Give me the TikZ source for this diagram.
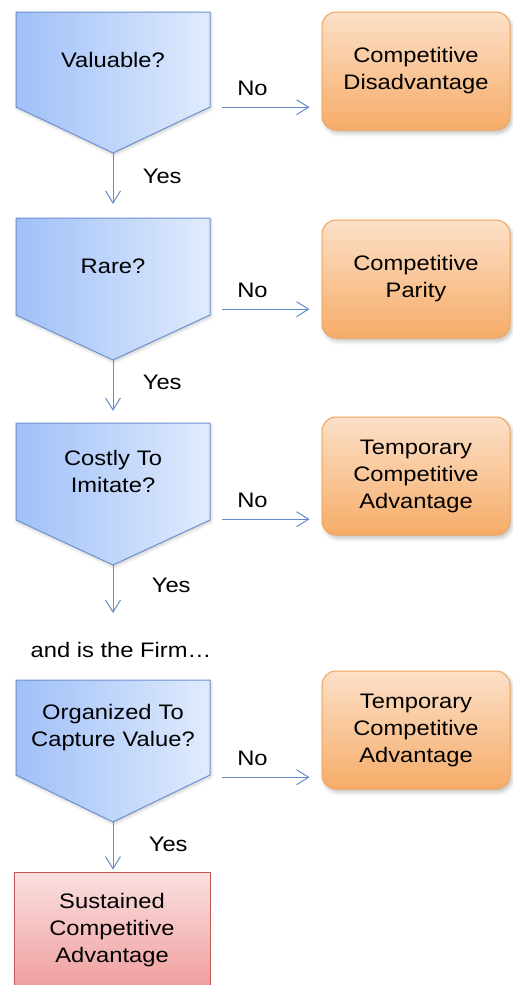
\documentclass[tikz,border=0pt]{standalone}
\usepackage{fontspec}
\setmainfont{Liberation Sans}[FakeStretch=1.13]
\usetikzlibrary{arrows.meta,shadows.blur}

\definecolor{flowline}{RGB}{100,140,205}
\definecolor{askleft}{RGB}{160,192,248}
\definecolor{askright}{RGB}{224,235,253}
\definecolor{askline}{RGB}{110,146,205}
\definecolor{warmtop}{RGB}{252,224,200}
\definecolor{warmbot}{RGB}{246,172,104}
\definecolor{warmline}{RGB}{240,165,90}
\definecolor{redtop}{RGB}{250,224,224}
\definecolor{redbot}{RGB}{240,158,158}
\definecolor{redline}{RGB}{192,88,84}

\begin{document}
\begin{tikzpicture}[x=1pt,y=-1pt,font=\fontsize{21}{27}\selectfont,
  question/.style={minimum width=194pt,minimum height=95pt,inner sep=0pt,text width=190pt,align=center},
  askshape/.style={draw=askline,line width=1pt,left color=askleft,right color=askright,blur shadow={shadow xshift=1pt,shadow yshift=-2pt,shadow blur radius=3pt,shadow opacity=20}},
  outcome/.style={draw=warmline,line width=1pt,rounded corners=14pt,top color=warmtop,bottom color=warmbot,minimum width=188pt,minimum height=118pt,inner sep=0pt,align=center,blur shadow={shadow xshift=2pt,shadow yshift=-3pt,shadow blur radius=4pt,shadow opacity=25}},
  sustained/.style={draw=redline,line width=1pt,top color=redtop,bottom color=redbot,minimum width=196pt,minimum height=116pt,inner sep=0pt,align=center},
  flow/.style={draw=flowline,line width=1pt,-{Straight Barb[length=12pt,width=15pt]}}
]
\useasboundingbox (0,0) rectangle (512,985);

%Shape: Pentagons
\foreach \top/\side/\tip in {12/107/153,218/315/360,423/520/565,680/775/822}
  \path[askshape] (16,\top) -- (210,\top) -- (210,\side) -- (113,\tip) -- (16,\side) -- cycle;

%Question nodes (rectangular part of each pentagon)
\node[question] (q1) at (113,59.5) {Valuable?};
\node[question] (q2) at (113,266.5) {Rare?};
\node[question] (q3) at (113,471.5) {Costly To\\Imitate?};
\node[question] (q4) at (113,727.5) {Organized To\\Capture Value?};

%Tips of the pentagons
\coordinate (t1) at (113,153);
\coordinate (t2) at (113,360);
\coordinate (t3) at (113,565);
\coordinate (t4) at (113,822);

%Outcome boxes
\node[outcome] (o1) at (416,71) {Competitive\\Disadvantage};
\node[outcome] (o2) at (416,279) {Competitive\\Parity};
\node[outcome] (o3) at (416,476) {Temporary\\Competitive\\Advantage};
\node[outcome] (o4) at (416,730) {Temporary\\Competitive\\Advantage};

% Text Node
\node (firm) at (121,650) {and is the Firm…};

%Final box
\node[sustained] (sca) at (112,930) {Sustained\\Competitive\\Advantage};

%Yes arrows
\coordinate (a3) at (113,613);
\draw[flow,shorten >=15pt] (t1) -- (q2.north) node[pos=0.35,right=26pt] {Yes};
\draw[flow,shorten >=13pt] (t2) -- (q3.north) node[pos=0.35,right=26pt] {Yes};
\draw[flow] (t3) -- (a3) node[pos=0.42,right=35pt] {Yes};
\draw[flow,shorten >=2pt] (t4) -- (sca.north -| t4) node[pos=0.46,right=32pt] {Yes};

%No arrows
\draw[flow,shorten <=12pt,shorten >=12pt] (q1.south east) -- (q1.south east -| o1.west) node[pos=0.38,above=8pt] {No};
\draw[flow,shorten <=12pt,shorten >=12pt] ([yshift=5pt]q2.south east) -- ([yshift=5pt]q2.south east -| o2.west) node[pos=0.38,above=8pt] {No};
\draw[flow,shorten <=12pt,shorten >=12pt] (q3.south east) -- (q3.south east -| o3.west) node[pos=0.38,above=8pt] {No};
\draw[flow,shorten <=12pt,shorten >=12pt] ([yshift=-2pt]q4.south east) -- ([yshift=-2pt]q4.south east -| o4.west) node[pos=0.38,above=8pt] {No};

\end{tikzpicture}
\end{document}
